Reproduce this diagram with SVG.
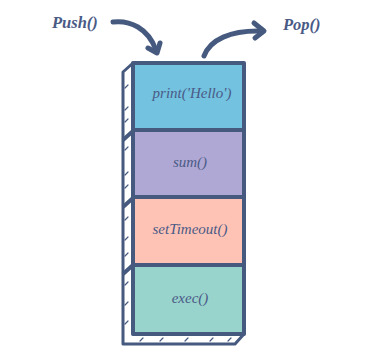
<svg xmlns="http://www.w3.org/2000/svg" width="383" height="360" viewBox="0 0 383 360">
<style>
.box{stroke:#46597f;stroke-width:4;stroke-linejoin:round}
.lbl{font-family:"Liberation Serif",serif;font-style:italic;font-size:15px;fill:#4a5a86;text-anchor:middle}
.act{font-family:"Liberation Serif",serif;font-style:italic;font-weight:bold;font-size:16.5px;fill:#4a5a86}
.arr{fill:none;stroke:#46597f;stroke-width:5;stroke-linecap:round;stroke-linejoin:round}
.side{fill:#ffffff;stroke:#46597f;stroke-width:3;stroke-linejoin:round}
.tick{stroke:#46597f;stroke-width:1.2;stroke-linecap:round}
</style>
<rect width="383" height="360" fill="#ffffff"/>
<g id="push-label"><text class="act" x="52" y="28">Push()</text></g>
<g id="pop-label"><text class="act" x="283" y="30">Pop()</text></g>
<g id="connectors">
<path class="arr" d="M113,22 C130,20 148,28 156,50"/>
<path class="arr" d="M148,48 L157,53 L160,43"/>
<path class="arr" d="M204,56 C210,40 230,30 262,31"/>
<path class="arr" d="M254,23 L264,31 L255,38"/>
</g>
<g id="stack-side">
<path class="side" d="M133,63 L123,72 L123,344 L235,344 L244,334 L133,334 Z"/>
<path class="tick" d="M125,88 l3,-3 M125,110 l3,-3 M125,122 l3,-3 M125,150 l3,-3 M125,175 l3,-3 M125,188 l3,-3 M125,220 l3,-3 M125,240 l3,-3 M125,256 l3,-3 M125,285 l3,-3 M125,305 l3,-3 M125,324 l3,-3"/>
<path class="tick" d="M140,341 l3,-3 M160,341 l3,-3 M185,341 l3,-3 M210,341 l3,-3 M228,341 l3,-3"/>
<path class="box" fill="none" d="M123,140 L133,131 M123,207 L133,198 M123,274 L133,265"/>
</g>
<g id="node-print">
<rect class="box" x="133" y="63" width="111" height="67" fill="#72c2e0"/>
<text class="lbl" x="192" y="98">print('Hello')</text>
</g>
<g id="node-sum">
<rect class="box" x="133" y="130" width="111" height="67" fill="#b0a8d4"/>
<text class="lbl" x="190" y="167">sum()</text>
</g>
<g id="node-settimeout">
<rect class="box" x="133" y="197" width="111" height="68" fill="#ffc3b5"/>
<text class="lbl" x="190" y="234">setTimeout()</text>
</g>
<g id="node-exec">
<rect class="box" x="133" y="265" width="111" height="69" fill="#98d3cc"/>
<text class="lbl" x="190" y="303">exec()</text>
</g>
</svg>
